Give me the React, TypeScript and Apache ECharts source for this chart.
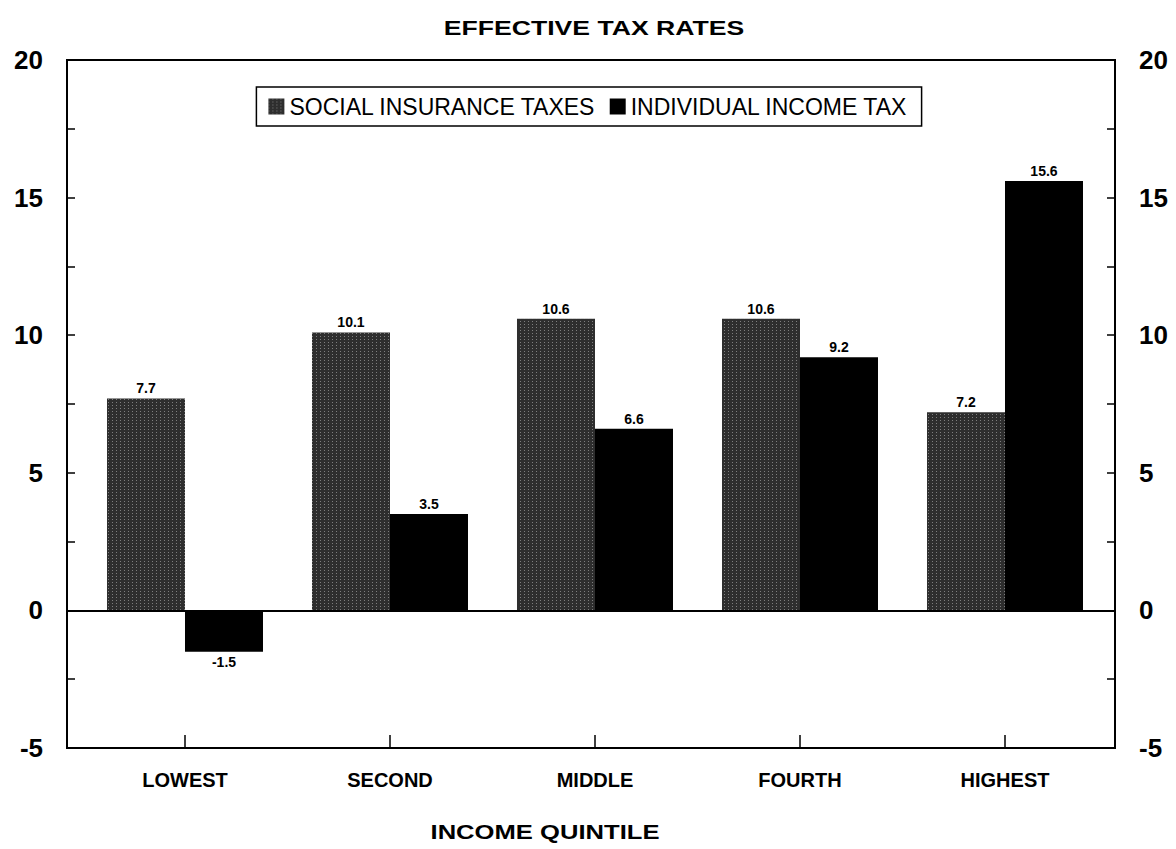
import React, { useEffect, useRef } from "react";
import * as echarts from "echarts";

const categories = ["LOWEST", "SECOND", "MIDDLE", "FOURTH", "HIGHEST"];
const socialInsurance = [7.7, 10.1, 10.6, 10.6, 7.2];
const individualIncome = [-1.5, 3.5, 6.6, 9.2, 15.6];
const seriesNames = ["SOCIAL INSURANCE TAXES", "INDIVIDUAL INCOME TAX"];
const yMin = -5;
const yMax = 20;
const yStep = 5;

const FONT = "'Liberation Sans', Arial, Helvetica, sans-serif";

function toItems(values: number[]) {
  return values.map((v, i) => ({
    value: [i, v],
    label: { position: v < 0 ? "bottom" : "top" },
  }));
}

export default function App() {
  const ref = useRef<HTMLDivElement>(null);

  useEffect(() => {
    if (!ref.current) return;
    const chart = echarts.init(ref.current, undefined, { renderer: "svg" });

    const yAxisBase = (position: "left" | "right") => ({
      type: "value",
      position,
      min: yMin,
      max: yMax,
      interval: yStep,
      axisLine: { show: true, onZero: false, lineStyle: { color: "#000", width: 2 } },
      axisTick: { show: true, inside: true, length: 8, lineStyle: { color: "#000", width: 1.5 } },
      minorTick: { show: true, splitNumber: 2, length: 8, lineStyle: { color: "#000", width: 1.5 } },
      splitLine: { show: false },
      axisLabel: {
        margin: 24,
        color: "#000",
        fontFamily: FONT,
        fontSize: 26,
        fontWeight: "bold",
      },
    });

    const valueLabel = {
      show: true,
      distance: 3,
      color: "#000",
      fontFamily: FONT,
      fontSize: 14,
      fontWeight: "bold",
      formatter: (p: any) => Number(p.value[1]).toFixed(1),
    };

    chart.setOption({
      animation: false,
      backgroundColor: "#fff",
      grid: {
        left: 67,
        right: 61,
        top: 60,
        bottom: 101,
        show: true,
        borderColor: "#000",
        borderWidth: 2,
        backgroundColor: "transparent",
      },
      legend: {
        top: 87,
        left: "center",
        data: seriesNames,
        itemWidth: 16,
        itemHeight: 16,
        itemGap: 14,
        padding: [8, 14, 8, 12],
        borderColor: "#000",
        borderWidth: 1.5,
        icon: "rect",
        textStyle: {
          color: "#000",
          fontFamily: FONT,
          fontSize: 23,
        },
      },
      xAxis: {
        type: "value",
        min: -0.5756,
        max: 4.5366,
        axisLine: { show: true, onZero: false, lineStyle: { color: "#000", width: 2 } },
        axisTick: {
          show: true,
          inside: true,
          length: 13,
          customValues: [0, 1, 2, 3, 4],
          lineStyle: { color: "#000", width: 1.5 },
        },
        splitLine: { show: false },
        axisLabel: {
          show: true,
          margin: 22,
          customValues: [0, 1, 2, 3, 4],
          formatter: (v: number) => categories[Math.round(v)] ?? "",
          color: "#000",
          fontFamily: FONT,
          fontSize: 20,
          fontWeight: "bold",
        },
      },
      yAxis: [yAxisBase("left"), yAxisBase("right")],
      series: [
        {
          name: seriesNames[0],
          type: "bar",
          barWidth: 78,
          barGap: "0%",
          yAxisIndex: 0,
          data: toItems(socialInsurance),
          itemStyle: {
            color: "#2e2e2e",
            decal: {
              symbol: "rect",
              symbolSize: 1,
              color: "rgba(255,255,255,0.38)",
              dashArrayX: [1, 3],
              dashArrayY: [1, 2],
              rotation: 0,
            },
          },
          label: valueLabel,
          markLine: {
            silent: true,
            symbol: "none",
            label: { show: false },
            lineStyle: { color: "#000", width: 2, type: "solid" },
            data: [{ yAxis: 0 }],
          },
        },
        {
          name: seriesNames[1],
          type: "bar",
          barWidth: 78,
          barGap: "0%",
          yAxisIndex: 0,
          data: toItems(individualIncome),
          itemStyle: { color: "#000" },
          label: valueLabel,
        },
      ],
      graphic: [
        {
          type: "text",
          x: 594,
          y: 28,
          scaleX: 1.33,
          style: {
            text: "EFFECTIVE TAX RATES",
            fill: "#000",
            font: `bold 20px ${FONT}`,
            textAlign: "center",
            textVerticalAlign: "middle",
          },
        },
        {
          type: "text",
          x: 545,
          y: 832,
          scaleX: 1.28,
          style: {
            text: "INCOME QUINTILE",
            fill: "#000",
            font: `bold 20px ${FONT}`,
            textAlign: "center",
            textVerticalAlign: "middle",
          },
        },
      ],
    });

    return () => chart.dispose();
  }, []);

  return (
    <div
      ref={ref}
      style={{ position: "fixed", left: 0, top: 0, width: 1176, height: 849 }}
    />
  );
}
